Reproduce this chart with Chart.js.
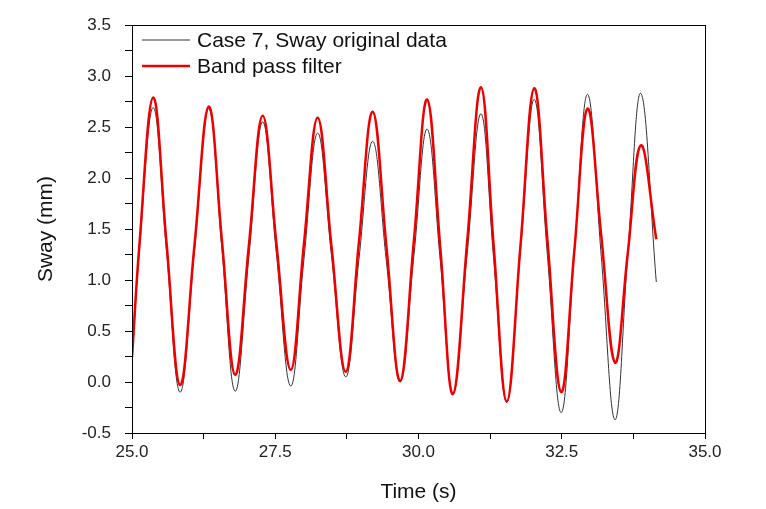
<!DOCTYPE html>
<html>
<head>
<meta charset="utf-8">
<script src="https://cdn.jsdelivr.net/npm/chart.js@4"></script>
<style>
  body { margin: 0; background: #fff; }
  #wrap { width: 766px; height: 509px; }
</style>
</head>
<body>
<div id="wrap"><canvas id="chart" width="766" height="509"></canvas></div>
<script>
// time (s) at start, crossings, peaks, troughs, end
const time = [25.00, 25.13, 25.37, 25.60, 25.84, 26.09, 26.34, 26.57, 26.80, 27.04,
              27.28, 27.52, 27.77, 28.00, 28.24, 28.48, 28.73, 28.96, 29.20, 29.44,
              29.68, 29.92, 30.15, 30.38, 30.60, 30.85, 31.09, 31.31, 31.54, 31.78,
              32.02, 32.25, 32.49, 32.72, 32.95, 33.19, 33.43, 33.65, 33.88, 34.15];

const swayOriginal = [0.20, 1.30, 2.69, 1.30, -0.10, 1.29, 2.68, 1.30, -0.09, 1.23,
                      2.55, 1.26, -0.04, 1.20, 2.44, 1.25, 0.05, 1.20, 2.36, 1.18,
                      0.00, 1.24, 2.48, 1.19, -0.11, 1.26, 2.63, 1.22, -0.20, 1.29,
                      2.77, 1.24, -0.30, 1.26, 2.82, 1.23, -0.37, 1.23, 2.83, 0.98];

const swayFiltered = [0.24, 1.35, 2.79, 1.38, -0.03, 1.34, 2.70, 1.38, 0.07, 1.34,
                      2.61, 1.36, 0.12, 1.35, 2.59, 1.34, 0.10, 1.37, 2.65, 1.33,
                      0.01, 1.39, 2.77, 1.32, -0.12, 1.38, 2.89, 1.35, -0.19, 1.34,
                      2.88, 1.39, -0.10, 1.29, 2.68, 1.43, 0.19, 1.25, 2.32, 1.40];

const legendLabels = ["Case 7, Sway original data", "Band pass filter"];

function toPoints(ys) {
  return time.map((t, i) => ({ x: t, y: ys[i] }));
}

const frameAndLegend = {
  id: 'frameAndLegend',
  afterDraw(chart) {
    const { ctx, chartArea: a } = chart;
    ctx.save();
    ctx.strokeStyle = '#000';
    ctx.lineWidth = 1;
    ctx.strokeRect(a.left + 0.5, a.top + 0.5, a.right - a.left, a.bottom - a.top);

    // legend in the top left of the plot
    chart.data.datasets.forEach((ds, i) => {
      const y = 40 + i * 26;
      ctx.strokeStyle = ds.borderColor;
      ctx.lineWidth = ds.borderWidth;
      ctx.beginPath();
      ctx.moveTo(a.left + 10, y);
      ctx.lineTo(a.left + 58, y);
      ctx.stroke();
      ctx.fillStyle = '#111';
      ctx.font = '21px Arial, "Liberation Sans"';
      ctx.textBaseline = 'middle';
      ctx.fillText(ds.label, a.left + 65, y + 1);
    });
    ctx.restore();
  }
};

new Chart(document.getElementById('chart'), {
  type: 'line',
  data: {
    datasets: [
      {
        label: legendLabels[0],
        data: toPoints(swayOriginal),
        borderColor: '#333',
        borderWidth: 1,
        pointRadius: 0,
        tension: 0.4,
        order: 1
      },
      {
        label: legendLabels[1],
        data: toPoints(swayFiltered),
        borderColor: '#ee0000',
        borderWidth: 2.5,
        pointRadius: 0,
        tension: 0.4,
        order: 0
      }
    ]
  },
  options: {
    responsive: false,
    animation: false,
    layout: { padding: { left: 34, top: 25, right: 61, bottom: 0 } },
    plugins: { legend: { display: false }, tooltip: { enabled: false } },
    scales: {
      x: {
        type: 'linear',
        min: 25, max: 35,
        afterFit(s) { s.height = 76; },
        ticks: {
          stepSize: 1.25,
          autoSkip: false,
          maxRotation: 0,
          color: '#222',
          font: { family: 'Arial, "Liberation Sans"', size: 17 },
          padding: 3,
          callback: v => (Math.abs(v / 2.5 - Math.round(v / 2.5)) < 1e-6 ? v.toFixed(1) : '')
        },
        grid: { drawOnChartArea: false, drawTicks: true, tickLength: 6, color: '#000' },
        border: { color: '#000', width: 1 },
        title: {
          display: true, text: 'Time (s)', color: '#111',
          font: { family: 'Arial, "Liberation Sans"', size: 21 },
          padding: { top: 1 }
        }
      },
      y: {
        min: -0.5, max: 3.5,
        afterFit(s) { s.width = 98; },
        ticks: {
          stepSize: 0.25,
          autoSkip: false,
          color: '#222',
          font: { family: 'Arial, "Liberation Sans"', size: 17 },
          padding: 14,
          callback: v => (Math.abs(v * 2 - Math.round(v * 2)) < 1e-6 ? v.toFixed(1) : '')
        },
        grid: { drawOnChartArea: false, drawTicks: true, tickLength: 7, color: '#000' },
        border: { color: '#000', width: 1 },
        title: {
          display: true, text: 'Sway (mm)', color: '#111',
          font: { family: 'Arial, "Liberation Sans"', size: 21 },
          padding: { top: 0, bottom: 0 }
        }
      }
    }
  },
  plugins: [frameAndLegend]
});
</script>
</body>
</html>
